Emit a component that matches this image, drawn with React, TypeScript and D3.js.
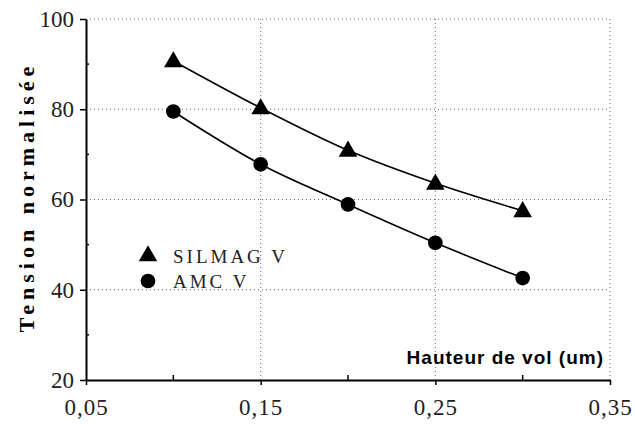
import { useEffect, useRef } from "react";
import * as d3 from "d3";

const hauteurs = [0.1, 0.15, 0.2, 0.25, 0.3];
const silmagV = [90.7, 80.3, 70.9, 63.6, 57.5];
const amcV = [79.5, 67.8, 58.9, 50.4, 42.6];
const xTicks = [0.05, 0.15, 0.25, 0.35];
const xMinor = [0.1, 0.2, 0.3];
const yTicks = [20, 40, 60, 80, 100];
const yMinor = [30, 50, 70, 90];

const W = 635;
const H = 424;
const SERIF = "'Liberation Serif', 'Times New Roman', serif";

const App = () => {
  const ref = useRef<SVGSVGElement | null>(null);

  useEffect(() => {
    drawChart();
  }, []);

  const drawChart = () => {
    const svg = d3.select(ref.current);
    svg.selectAll("*").remove();

    const x = d3.scaleLinear().domain([0.05, 0.35]).range([86, 610]);
    const y = d3.scaleLinear().domain([20, 100]).range([380, 19]);
    const fmt = (d: number) => d.toFixed(2).replace(".", ",");

    // grille pointillée
    const grid = svg.append("g").attr("stroke", "#666").attr("stroke-width", 1).attr("stroke-dasharray", "1,3");
    grid
      .selectAll("line.v")
      .data(xTicks.slice(1))
      .join("line")
      .attr("x1", (d) => x(d))
      .attr("x2", (d) => x(d))
      .attr("y1", y(100))
      .attr("y2", y(20));
    grid
      .selectAll("line.h")
      .data(yTicks.slice(1))
      .join("line")
      .attr("class", "h")
      .attr("x1", x(0.05))
      .attr("x2", x(0.35))
      .attr("y1", (d) => y(d))
      .attr("y2", (d) => y(d));

    // axes
    const axX = svg
      .append("g")
      .attr("transform", `translate(0,${y(20)})`)
      .call(d3.axisBottom(x).tickValues(xTicks).tickSize(5).tickSizeOuter(0).tickFormat((d) => fmt(d as number)))
      .attr("font-family", SERIF)
      .attr("font-size", 23);
    axX.select(".domain").attr("stroke-width", 2);
    axX.selectAll(".tick line").attr("y2", 5).attr("stroke-width", 1.5);
    axX.selectAll("text").attr("y", 15).attr("dy", "0.85em").attr("letter-spacing", "1px").attr("fill", "#222");
    axX
      .selectAll("line.minor")
      .data(xMinor)
      .join("line")
      .attr("class", "minor")
      .attr("x1", (d) => x(d))
      .attr("x2", (d) => x(d))
      .attr("y1", 0)
      .attr("y2", -5)
      .attr("stroke", "#000")
      .attr("stroke-width", 1.5);

    const axY = svg
      .append("g")
      .attr("transform", `translate(${x(0.05)},0)`)
      .call(d3.axisLeft(y).tickValues(yTicks).tickSize(6).tickSizeOuter(0))
      .attr("font-family", SERIF)
      .attr("font-size", 23);
    axY.select(".domain").attr("stroke-width", 2);
    axY.selectAll(".tick line").attr("stroke-width", 1.5);
    axY.selectAll("text").attr("x", -12).attr("fill", "#222");
    axY
      .selectAll("line.minor")
      .data(yMinor)
      .join("line")
      .attr("class", "minor")
      .attr("x1", 0)
      .attr("x2", 3)
      .attr("y1", (d) => y(d))
      .attr("y2", (d) => y(d))
      .attr("stroke", "#000")
      .attr("stroke-width", 1.5);

    // courbes
    const series = [
      { name: "SILMAG V", values: silmagV, shape: d3.symbolTriangle, size: 150 },
      { name: "AMC V", values: amcV, shape: d3.symbolCircle, size: 170 },
    ];
    const line = d3
      .line<number>()
      .x((_, i) => x(hauteurs[i]))
      .y((d) => y(d))
      .curve(d3.curveMonotoneX);

    series.forEach((s) => {
      svg.append("path").attr("d", line(s.values)).attr("fill", "none").attr("stroke", "#000").attr("stroke-width", 1.6);
      svg
        .selectAll(null)
        .data(s.values)
        .join("path")
        .attr("transform", (d, i) => `translate(${x(hauteurs[i])},${y(d) + (s.shape === d3.symbolTriangle ? 1 : 0)})`)
        .attr("d", d3.symbol().type(s.shape).size(s.size)())
        .attr("fill", "#000");
    });

    // légende
    series.forEach((s, i) => {
      const ly = 256 + i * 25;
      svg
        .append("path")
        .attr("transform", `translate(148,${ly})`)
        .attr("d", d3.symbol().type(s.shape).size(s.size)())
        .attr("fill", "#000");
      svg
        .append("text")
        .attr("x", 173)
        .attr("y", ly)
        .attr("dy", "0.35em")
        .attr("letter-spacing", "3px")
        .style("font-family", SERIF)
        .style("font-size", "19px")
        .attr("fill", "#222")
        .text(s.name);
    });

    // titres d'axes
    svg
      .append("text")
      .attr("x", 604)
      .attr("y", 364)
      .attr("text-anchor", "end")
      .attr("letter-spacing", "1px")
      .style("font-family", "'Liberation Sans', Arial, sans-serif")
      .style("font-weight", "bold")
      .style("font-size", "19px")
      .attr("fill", "#000")
      .text("Hauteur de vol (um)");

    svg
      .append("text")
      .attr("transform", `translate(34,197) rotate(-90)`)
      .attr("text-anchor", "middle")
      .attr("letter-spacing", "5px")
      .style("font-family", SERIF)
      .style("font-weight", "bold")
      .style("font-size", "22px")
      .attr("fill", "#000")
      .text("Tension normalisée");
  };

  return (
    <div style={{ position: "fixed", left: 0, top: 0, background: "#fff" }}>
      <svg ref={ref} width={W} height={H} style={{ display: "block" }} />
    </div>
  );
};

export default App;
